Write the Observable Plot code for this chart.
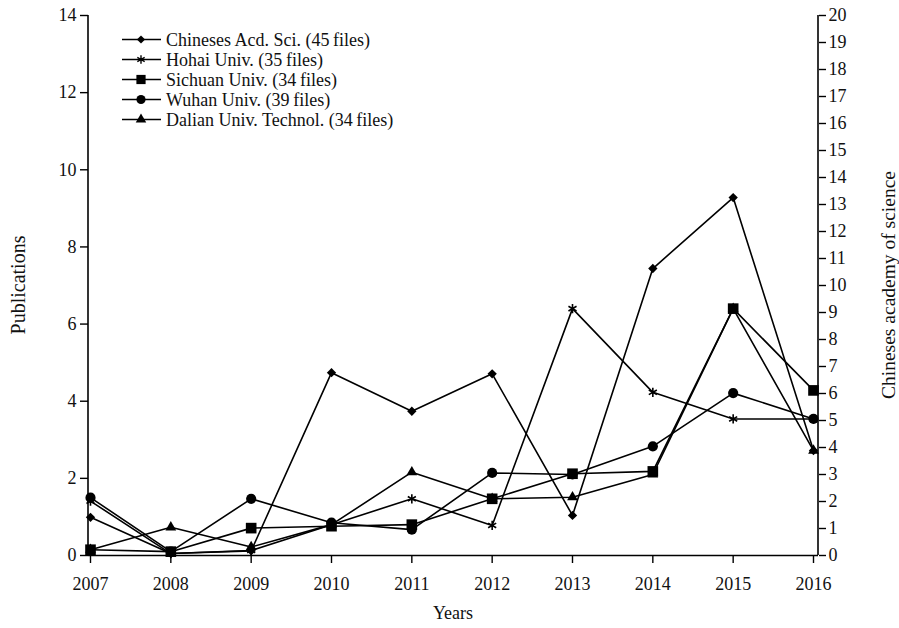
<!DOCTYPE html>
<html><head><meta charset="utf-8">
<script src="https://cdn.jsdelivr.net/npm/d3@7"></script>
<script src="https://cdn.jsdelivr.net/npm/@observablehq/plot@0.6"></script>
<style>body{margin:0;background:#fff}</style>
</head><body><div id="chart"></div>
<script>
const years = [2007, 2008, 2009, 2010, 2011, 2012, 2013, 2014, 2015, 2016];
const seriesNames = [
  "Chineses Acd. Sci. (45\u2009files)",
  "Hohai Univ. (35\u2009files)",
  "Sichuan Univ. (34\u2009files)",
  "Wuhan Univ. (39\u2009files)",
  "Dalian Univ. Technol. (34\u2009files)"
];
const casValues     = [0.99, 0.05, 0.12, 4.74, 3.74, 4.71, 1.04, 7.44, 9.28, 2.72];
const hohaiValues   = [1.41, 0.05, 0.13, 0.80, 1.47, 0.78, 6.40, 4.23, 3.54, 3.54];
const sichuanValues = [0.15, 0.10, 0.71, 0.76, 0.80, 1.47, 2.12, 2.18, 6.40, 4.28];
const wuhanValues   = [1.50, 0.10, 1.47, 0.85, 0.67, 2.14, 2.10, 2.83, 4.21, 3.54];
const dalianValues  = [0.15, 0.73, 0.22, 0.80, 2.16, 1.47, 1.51, 2.10, 6.40, 2.72];
const leftTicks = [0, 2, 4, 6, 8, 10, 12, 14];
const rightTickLabels = [0,1,2,3,4,5,6,7,8,9,10,11,12,13,14,15,16,17,18,19,20];
const rightMax = 20, leftMax = 14;

const allValues = [casValues, hohaiValues, sichuanValues, wuhanValues, dalianValues];
const symbols = ["diamond2", "asterisk", "square", "circle", "triangle"];
const radii = [4.2, 4.4, 6.0, 5.1, 4.0];
const legendRadii = [3.7, 4.0, 5.2, 4.6, 3.9];
const d3symbols = [d3.symbolDiamond2, d3.symbolAsterisk, d3.symbolSquare, d3.symbolCircle, d3.symbolTriangle];
const drawOrder = [4, 3, 1, 0, 2];

const data = [];
seriesNames.forEach((s, i) => years.forEach((y, j) => data.push({series: s, idx: i, year: y, value: allValues[i][j]})));

const W = 899, H = 628, mL = 88, mR = 81, mT = 15, mB = 73;

const dotMarks = drawOrder.map(i => Plot.dot(data.filter(d => d.idx === i), {
  x: "year", y: "value", symbol: () => symbols[i], r: radii[i],
  fill: symbols[i] === "asterisk" ? "none" : "black",
  stroke: symbols[i] === "asterisk" ? "black" : "none",
  strokeWidth: 1.6
}));

const plot = Plot.plot({
  width: W, height: H,
  marginLeft: mL, marginRight: mR, marginTop: mT, marginBottom: mB,
  style: {fontFamily: "Liberation Serif", fontSize: "18px", background: "white", color: "#111"},
  x: {domain: [2007, 2016], insetLeft: 2, insetRight: 5},
  y: {domain: [0, leftMax]},
  symbol: {type: "identity"},
  marks: [
    Plot.line(data, {x: "year", y: "value", z: "series", stroke: "black", strokeWidth: 1.6}),
    ...dotMarks,
    Plot.ruleY([0], {stroke: "black", strokeWidth: 1.6}),
    Plot.axisX({ticks: years, tickFormat: d => String(d), tickSize: 8, tickPadding: 14, label: null, stroke: "black", strokeWidth: 1.4}),
    Plot.axisY({anchor: "left", ticks: leftTicks, tickSize: 8, tickPadding: 4, label: null, stroke: "black", strokeWidth: 1.4}),
    Plot.axisY({anchor: "right", ticks: rightTickLabels.map(v => v * leftMax / rightMax),
      tickFormat: d => String(Math.round(d * rightMax / leftMax)), tickSize: 7, tickPadding: 3, label: null, stroke: "black", strokeWidth: 1.4})
  ]
});

const svg = d3.select(plot);
// vertical axis lines
[mL, W - mR].forEach(x => svg.append("line").attr("x1", x).attr("x2", x).attr("y1", mT).attr("y2", H - mB)
  .attr("stroke", "black").attr("stroke-width", 1.6));
// axis titles
svg.append("text").attr("x", mL + (W - mL - mR) / 2).attr("y", 619).attr("text-anchor", "middle")
  .attr("font-size", 18).attr("fill", "#111").text("Years");
svg.append("text").attr("transform", `translate(18,${mT + (H - mT - mB) / 2}) rotate(-90)`).attr("dy", "0.35em")
  .attr("text-anchor", "middle").attr("font-size", 20).attr("fill", "#111").text("Publications");
svg.append("text").attr("transform", `translate(888,${mT + (H - mT - mB) / 2}) rotate(-90)`).attr("dy", "0.35em")
  .attr("text-anchor", "middle").attr("font-size", 19.5).attr("fill", "#111").text("Chineses academy of science");
// legend
const lg = svg.append("g");
seriesNames.forEach((s, i) => {
  const y = 39.5 + i * 20;
  lg.append("line").attr("x1", 122).attr("x2", 161).attr("y1", y).attr("y2", y).attr("stroke", "black").attr("stroke-width", 1.6);
  const r = legendRadii[i];
  lg.append("path").attr("transform", `translate(141,${y})`)
    .attr("d", d3.symbol(d3symbols[i], Math.PI * r * r)())
    .attr("fill", symbols[i] === "asterisk" ? "none" : "black")
    .attr("stroke", symbols[i] === "asterisk" ? "black" : "none").attr("stroke-width", 1.4);
  lg.append("text").attr("x", 166).attr("y", y).attr("dy", "0.35em").attr("text-anchor", "start")
    .attr("font-size", 18).attr("fill", "#111").text(s);
});

document.getElementById("chart").appendChild(plot);
</script>
</body></html>
